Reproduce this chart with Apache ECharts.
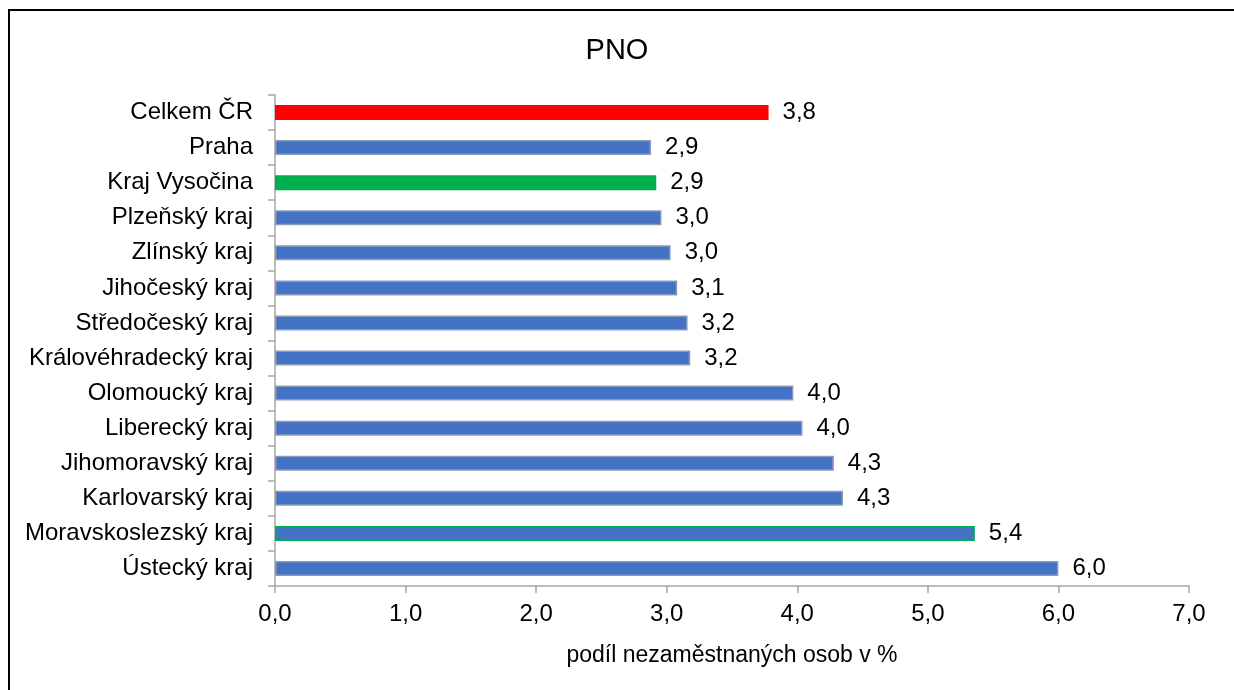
<!DOCTYPE html>
<html>
<head>
<meta charset="utf-8">
<script src="https://cdn.jsdelivr.net/npm/echarts@6/dist/echarts.min.js"></script>
<style>
    html, body { margin: 0; padding: 0; background: #fff; }
    #frame { position: absolute; left: 8px; top: 9px; width: 1240px; height: 700px;
             border-top: 2px solid #000; border-left: 2px solid #000; }
    #main { position: absolute; left: 0; top: 0; width: 1234px; height: 690px; }
</style>
</head>
<body>
<div id="frame"></div>
<div id="main"></div>
<script type="text/javascript">
    // kraje shora dolu
    var kraje = ['Celkem ČR', 'Praha', 'Kraj Vysočina', 'Plzeňský kraj', 'Zlínský kraj',
        'Jihočeský kraj', 'Středočeský kraj', 'Královéhradecký kraj', 'Olomoucký kraj',
        'Liberecký kraj', 'Jihomoravský kraj', 'Karlovarský kraj', 'Moravskoslezský kraj',
        'Ústecký kraj'];
    var podil = [3.78, 2.88, 2.92, 2.96, 3.03, 3.08, 3.16, 3.18, 3.97, 4.04, 4.28, 4.35, 5.36, 6.0];
    var osaTicks = [0, 1, 2, 3, 4, 5, 6, 7];

    var font = "'Liberation Sans', Arial, sans-serif";

    function barva(i) {
        if (kraje[i] === 'Celkem ČR') return { color: '#FF0000', borderColor: '#FF0000' };
        if (kraje[i] === 'Kraj Vysočina') return { color: '#00B050', borderColor: '#00B050' };
        if (kraje[i] === 'Moravskoslezský kraj') return { color: '#4472C4', borderColor: '#00B050' };
        return { color: '#4472C4', borderColor: '#8A9BB8' };
    }

    var data = podil.map(function (v, i) {
        var b = barva(i);
        return { value: v, itemStyle: { color: b.color, borderColor: b.borderColor, borderWidth: 1.5 } };
    });

    var myChart = echarts.init(document.getElementById('main'));
    var option = {
        animation: false,
        title: {
            text: 'PNO',
            left: 'center',
            top: 31,
            textStyle: { fontFamily: font, fontSize: 29, fontWeight: 'normal', color: '#000' }
        },
        grid: { left: 275, right: 45, top: 95, bottom: 104 },
        xAxis: {
            type: 'value',
            min: osaTicks[0],
            max: osaTicks[osaTicks.length - 1],
            interval: 1,
            name: 'podíl nezaměstnaných osob v %',
            nameLocation: 'middle',
            nameGap: 58,
            nameTextStyle: { fontFamily: font, fontSize: 23, color: '#000' },
            axisLine: { show: true, lineStyle: { color: '#A6A6A6', width: 1.5 } },
            axisTick: { show: true, length: 7, lineStyle: { color: '#A6A6A6', width: 1.5 } },
            splitLine: { show: false },
            axisLabel: {
                margin: 16,
                fontFamily: font, fontSize: 24, color: '#000',
                formatter: function (v) { return v.toFixed(1).replace('.', ','); }
            }
        },
        yAxis: {
            type: 'category',
            data: kraje,
            inverse: true,
            axisLine: { show: true, lineStyle: { color: '#A6A6A6', width: 1.5 } },
            axisTick: { show: true, length: 7, lineStyle: { color: '#A6A6A6', width: 1.5 } },
            axisLabel: { margin: 22, fontFamily: font, fontSize: 24, color: '#000' }
        },
        series: [{
            type: 'bar',
            data: data,
            barWidth: 15,
            label: {
                show: true,
                position: 'right',
                distance: 14,
                fontFamily: font, fontSize: 24, color: '#000',
                formatter: function (p) { return p.value.toFixed(1).replace('.', ','); }
            }
        }]
    };
    myChart.setOption(option);
</script>
</body>
</html>
